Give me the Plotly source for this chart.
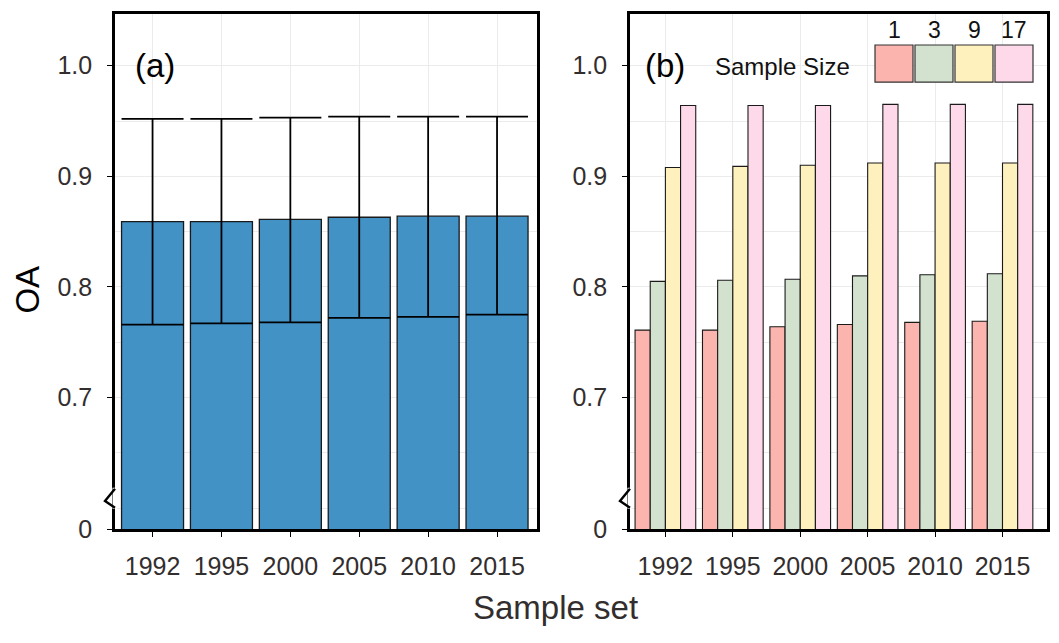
import plotly.graph_objects as go

# ---------------- data ----------------
years = ["1992", "1995", "2000", "2005", "2010", "2015"]

# panel (a): mean OA with error bar ends
oa_mean = [0.859, 0.859, 0.861, 0.863, 0.864, 0.864]
oa_upper = [0.952, 0.952, 0.953, 0.954, 0.954, 0.954]
oa_lower = [0.766, 0.767, 0.768, 0.772, 0.773, 0.775]

# panel (b): OA by sample size
sample_sizes = ["1", "3", "9", "17"]
oa_size1 = [0.761, 0.761, 0.764, 0.766, 0.768, 0.769]
oa_size3 = [0.805, 0.806, 0.807, 0.810, 0.811, 0.812]
oa_size9 = [0.908, 0.909, 0.910, 0.912, 0.912, 0.912]
oa_size17 = [0.964, 0.964, 0.964, 0.965, 0.965, 0.965]
size_series = [oa_size1, oa_size3, oa_size9, oa_size17]
size_colors = ["#FBB4AE", "#D2E2CF", "#FEF1BE", "#FDD9EA"]

y_ticks = [0.581, 0.7, 0.8, 0.9, 1.0]
y_ticktext = ["0", "0.7", "0.8", "0.9", "1.0"]
y_minor = [0.6, 0.65, 0.75, 0.85, 0.95]

# ---------------- layout helpers ----------------
W, H = 1059, 643
FONT = "Liberation Sans, Arial, sans-serif"
TXT = "#332e2e"
GRID = "#EBEBEB"


def fx(p):
    return p / W


def fy(p):
    return 1 - p / H


fig = go.Figure()

err_plus = [u - m for u, m in zip(oa_upper, oa_mean)]
err_minus = [m - l for m, l in zip(oa_mean, oa_lower)]

fig.add_trace(go.Bar(
    x=years, y=oa_mean, xaxis="x", yaxis="y",
    marker=dict(color="#4292C6", line=dict(color="#1a1a1a", width=1.3)),
    error_y=dict(type="data", symmetric=False, array=err_plus, arrayminus=err_minus,
                 color="#000000", thickness=1.8, width=31),
    showlegend=False,
))

for name, vals, col in zip(sample_sizes, size_series, size_colors):
    fig.add_trace(go.Bar(
        x=years, y=vals, xaxis="x2", yaxis="y2", name=name,
        marker=dict(color=col, line=dict(color="#1a1a1a", width=1.1)),
        showlegend=False,
    ))

axis_common = dict(
    showline=True, linecolor="#000000", linewidth=2.6, mirror=True,
    ticks="outside", ticklen=5, tickcolor="#000000", tickwidth=1,
    tickfont=dict(family=FONT, size=25, color=TXT),
    showgrid=True, gridcolor=GRID, gridwidth=1, zeroline=False,
)

yax = dict(axis_common, range=[0.581, 1.047], tickmode="array", tickvals=y_ticks,
           ticktext=y_ticktext, ticklabelstandoff=10,
           minor=dict(tickmode="array", tickvals=y_minor, showgrid=True,
                      gridcolor=GRID, gridwidth=1, ticklen=0),
           domain=[fy(541), fy(14)])

fig.update_layout(
    width=W, height=H,
    margin=dict(l=0, r=0, t=0, b=0),
    paper_bgcolor="white", plot_bgcolor="white",
    barmode="group", bargap=0.1, bargroupgap=0,
    xaxis=dict(axis_common, domain=[fx(115), fx(537)], range=[-0.545, 5.58],
               anchor="y", type="category", ticklabelstandoff=8),
    yaxis=dict(yax, anchor="x"),
    xaxis2=dict(axis_common, domain=[fx(630), fx(1047)], range=[-0.525, 5.66],
                anchor="y2", type="category", ticklabelstandoff=8),
    yaxis2=dict(yax, anchor="x2"),
)

# axis break symbols
shapes = []
for xr, yr in (("x domain", "y"), ("x2 domain", "y2")):
    shapes.append(dict(type="path", xref=xr, yref=yr, xsizemode="pixel", xanchor=0,
                       path="M 0,0.6185 L 0,0.5995", line=dict(color="white", width=5),
                       layer="above"))
    shapes.append(dict(type="path", xref=xr, yref=yr, xsizemode="pixel", xanchor=0,
                       path="M 0,0.6175 L -10,0.6065 L 0,0.6005",
                       line=dict(color="black", width=2.4), layer="above"))

# custom legend for panel (b)
sw_left, sw_w, sw_step = 875, 38, 40
for i, (name, col) in enumerate(zip(sample_sizes, size_colors)):
    x0 = sw_left + i * sw_step
    shapes.append(dict(type="rect", xref="paper", yref="paper",
                       x0=fx(x0), x1=fx(x0 + sw_w), y0=fy(84), y1=fy(46),
                       fillcolor=col, line=dict(color="#333333", width=1.2), layer="above"))
fig.update_layout(shapes=shapes)

ann = []
for i, name in enumerate(sample_sizes):
    x0 = sw_left + i * sw_step
    ann.append(dict(xref="paper", yref="paper", x=fx(x0 + sw_w / 2), y=fy(31),
                    text=name, showarrow=False, xanchor="center", yanchor="middle",
                    font=dict(family=FONT, size=23, color="#111111")))
ann.append(dict(xref="paper", yref="paper", x=fx(852), y=fy(68), text="Sample Size",
                showarrow=False, xanchor="right", yanchor="middle",
                font=dict(family=FONT, size=24, color="#111111")))
ann.append(dict(xref="x domain", yref="y", x=18 / 422, y=1.0, text="(a)", showarrow=False,
                xanchor="left", yanchor="middle", font=dict(family=FONT, size=33, color="#000000")))
ann.append(dict(xref="x2 domain", yref="y2", x=13 / 417, y=1.0, text="(b)", showarrow=False,
                xanchor="left", yanchor="middle", font=dict(family=FONT, size=33, color="#000000")))
ann.append(dict(xref="paper", yref="paper", x=fx(28), y=fy(296), text="OA", textangle=-90,
                showarrow=False, xanchor="center", yanchor="middle",
                font=dict(family=FONT, size=33, color="#000000")))
ann.append(dict(xref="paper", yref="paper", x=fx(555), y=fy(642), text="Sample set",
                showarrow=False, xanchor="center", yanchor="bottom",
                font=dict(family=FONT, size=33, color=TXT)))
fig.update_layout(annotations=ann)

# remove the default page margin so the figure sits exactly in the window
fig.write_html("out.html", config={"displayModeBar": False},
               post_script="document.body.style.margin='0px';")
